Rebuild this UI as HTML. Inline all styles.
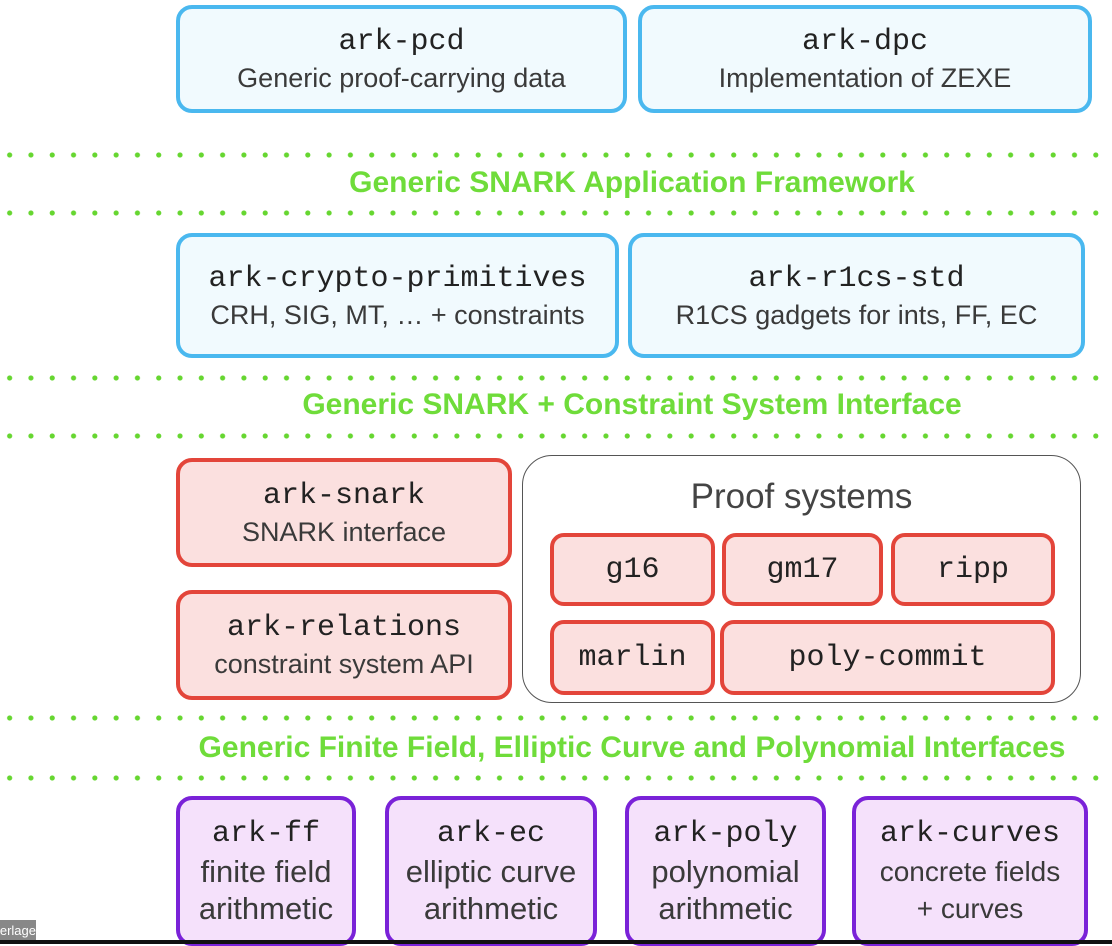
<!DOCTYPE html>
<html><head><style>
body{margin:0;width:1112px;height:944px;background:#fff;position:relative;overflow:hidden;font-family:"Liberation Sans",sans-serif}
.b{position:absolute;box-sizing:border-box;border-radius:16px;text-align:center;display:flex;flex-direction:column;justify-content:center}
.blue{border:4px solid #4ab8ef;background:#f1fafe}
.red{border:4px solid #e3453a;background:#fbe0df}
.pur{border:4px solid #7a22d8;background:#f5e1fb}
.t{font-family:"Liberation Mono",monospace;font-size:30px;color:#222;line-height:38px;white-space:nowrap}
.s{font-size:27px;color:#3a3a3a;line-height:34px;white-space:nowrap}
.lab{position:absolute;left:0;width:1112px;text-align:center;color:#6fdc3a;font-weight:bold;font-size:30px;white-space:nowrap}
.dots{position:absolute;left:0;width:1112px;height:6px;background-image:radial-gradient(circle,#66d630 2.3px,transparent 2.8px);background-size:21.3px 6px;background-position:-1px 0}
.p{font-size:31px;line-height:37px}
</style></head><body>
<div class="b blue" style="left:176px;top:5px;width:451px;height:108px"><div class="t">ark-pcd</div><div class="s">Generic proof-carrying data</div></div>
<div class="b blue" style="left:638px;top:5px;width:454px;height:108px"><div class="t">ark-dpc</div><div class="s">Implementation of ZEXE</div></div>
<div class="dots" style="top:152px"></div>
<div class="lab" style="top:166px;left:76px">Generic SNARK Application Framework</div>
<div class="dots" style="top:210px"></div>
<div class="b blue" style="left:176px;top:233px;width:443px;height:125px"><div class="t">ark-crypto-primitives</div><div class="s">CRH, SIG, MT, … + constraints</div></div>
<div class="b blue" style="left:628px;top:233px;width:457px;height:125px"><div class="t">ark-r1cs-std</div><div class="s">R1CS gadgets for ints, FF, EC</div></div>
<div class="dots" style="top:375px"></div>
<div class="lab" style="top:388px;left:76px">Generic SNARK + Constraint System Interface</div>
<div class="dots" style="top:433px"></div>
<div class="b red" style="left:176px;top:458px;width:336px;height:109px"><div class="t">ark-snark</div><div class="s">SNARK interface</div></div>
<div class="b red" style="left:176px;top:590px;width:336px;height:110px"><div class="t">ark-relations</div><div class="s">constraint system API</div></div>
<div style="position:absolute;left:522px;top:455px;width:559px;height:248px;box-sizing:border-box;border:1.5px solid #555;border-radius:30px"></div>
<div style="position:absolute;left:522px;top:477px;width:559px;text-align:center;font-size:35px;color:#444">Proof systems</div>
<div class="b red" style="left:550px;top:533px;width:165px;height:73px;border-radius:14px"><div class="t">g16</div></div>
<div class="b red" style="left:722px;top:533px;width:161px;height:73px;border-radius:14px"><div class="t">gm17</div></div>
<div class="b red" style="left:891px;top:533px;width:164px;height:73px;border-radius:14px"><div class="t">ripp</div></div>
<div class="b red" style="left:550px;top:620px;width:165px;height:75px;border-radius:14px"><div class="t">marlin</div></div>
<div class="b red" style="left:720px;top:620px;width:335px;height:75px;border-radius:14px"><div class="t">poly-commit</div></div>
<div class="dots" style="top:715px"></div>
<div class="lab" style="top:731px;left:76px">Generic Finite Field, Elliptic Curve and Polynomial Interfaces</div>
<div class="dots" style="top:775px"></div>
<div class="b pur" style="left:176px;top:796px;width:180px;height:150px"><div class="t">ark-ff</div><div class="s p">finite field<br>arithmetic</div></div>
<div class="b pur" style="left:385px;top:796px;width:212px;height:150px"><div class="t">ark-ec</div><div class="s p">elliptic curve<br>arithmetic</div></div>
<div class="b pur" style="left:625px;top:796px;width:201px;height:150px"><div class="t">ark-poly</div><div class="s p">polynomial<br>arithmetic</div></div>
<div class="b pur" style="left:852px;top:796px;width:236px;height:150px"><div class="t">ark-curves</div><div class="s p" style="font-size:28px">concrete fields<br>+ curves</div></div>
<div style="position:absolute;left:0;top:920px;width:36px;height:22px;background:#888;color:#fff;font-size:13px;line-height:22px;overflow:hidden;white-space:nowrap;direction:rtl">erlage</div>
<div style="position:absolute;left:0;top:940px;width:1112px;height:4px;background:#111"></div>
</body></html>
